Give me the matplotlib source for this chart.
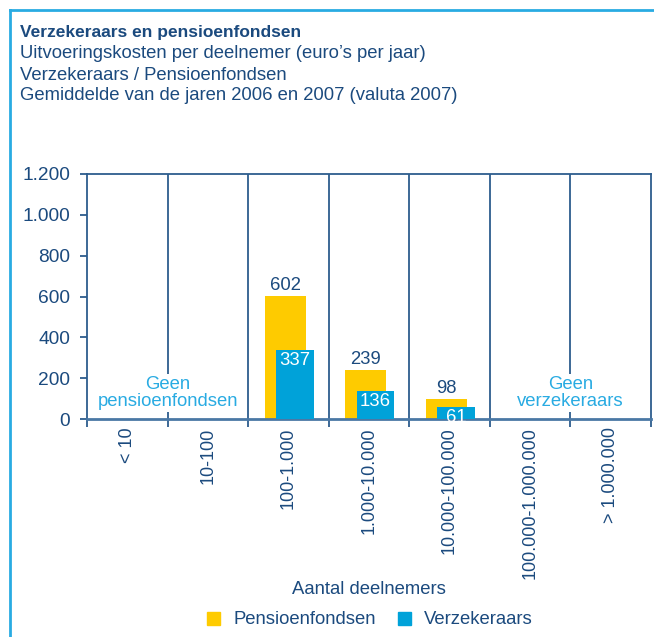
import numpy as np
import matplotlib.pyplot as plt
from matplotlib.lines import Line2D
from matplotlib.patches import Patch

plt.rcParams['font.family'] = ['Liberation Sans', 'DejaVu Sans']

# data
categories = ['< 10', '10-100', '100-1.000', '1.000-10.000',
              '10.000-100.000', '100.000-1.000.000', '> 1.000.000']
pensioenfondsen = [np.nan, np.nan, 602, 239, 98, np.nan, np.nan]
verzekeraars = [np.nan, np.nan, 337, 136, 61, np.nan, np.nan]
y_ticks = [0, 200, 400, 600, 800, 1000, 1200]
y_labels = ['0', '200', '400', '600', '800', '1.000', '1.200']
titles = ['Uitvoeringskosten per deelnemer (euro\u2019s per jaar)',
          'Verzekeraars / Pensioenfondsen',
          'Gemiddelde van de jaren 2006 en 2007 (valuta 2007)']

NAVY = '#1b4a7e'
YELLOW = '#fecb00'
BLUE = '#00a2d9'
LIGHTBLUE = '#29abe2'
FS = 13.3

fig = plt.figure(figsize=(6.54, 6.37), dpi=100)
ax = fig.add_axes([87/654, 1 - 419/637, (651 - 87)/654, (419 - 174)/637])

x = np.arange(len(categories))
ax.bar(x - 0.04, pensioenfondsen, width=0.51, color=YELLOW, zorder=2)
ax.bar(x + 0.08, verzekeraars, width=0.47, color=BLUE, zorder=3)

for i in range(len(categories)):
    if not np.isnan(pensioenfondsen[i]):
        ax.annotate(str(pensioenfondsen[i]), (x[i] - 0.04, pensioenfondsen[i]),
                    xytext=(0, 1.5), textcoords='offset points', ha='center',
                    va='bottom', color=NAVY, fontsize=FS)
    if not np.isnan(verzekeraars[i]):
        ax.annotate(str(verzekeraars[i]), (x[i] + 0.08, verzekeraars[i]),
                    xytext=(0, -1.5), textcoords='offset points', ha='center',
                    va='top', color='white', fontsize=FS, zorder=4)

# scheidingslijnen tussen de klassen
for b in np.arange(0.5, len(categories) - 1):
    ax.axvline(b, color='#2d5d8e', lw=1.3, zorder=1)

ax.text(0.5, 127, 'Geen\npensioenfondsen', ha='center', va='center',
        color=LIGHTBLUE, fontsize=FS, linespacing=1.05, zorder=5,
        bbox=dict(facecolor='white', edgecolor='none', pad=1))
ax.text(5.5, 127, 'Geen\nverzekeraars', ha='center', va='center',
        color=LIGHTBLUE, fontsize=FS, linespacing=1.05, zorder=5,
        bbox=dict(facecolor='white', edgecolor='none', pad=1))

ax.set_xlim(-0.5, len(categories) - 0.5)
ax.set_ylim(0, 1200)
ax.set_yticks(y_ticks)
ax.set_yticklabels(y_labels)
ax.set_xticks(x)
ax.set_xticklabels(categories, rotation=90, va='top')
ax.set_xticks(np.arange(-0.5, len(categories)), minor=True)
ax.tick_params(axis='x', which='major', length=0, pad=6, labelsize=13,
               labelcolor=NAVY)
ax.tick_params(axis='x', which='minor', length=6, width=1.3, color='#2d5d8e',
               direction='out')
ax.tick_params(axis='y', length=5, width=1.3, color='#2d5d8e', pad=7,
               labelsize=FS + 0.5, labelcolor=NAVY)

for side in ['left', 'right', 'top']:
    ax.spines[side].set_color('#2d5d8e')
    ax.spines[side].set_linewidth(1.3)
ax.spines['bottom'].set_color('#4a78a5')
ax.spines['bottom'].set_linewidth(2)

ax.set_xlabel('Aantal deelnemers', color=NAVY, fontsize=FS, va='center')
ax.xaxis.set_label_coords(0.5, -171/245)

# titel
fig.text(20/654, 1 - 33/637, 'Verzekeraars en pensioenfondsen', fontsize=12.5,
         fontweight='bold', color=NAVY, va='center')
for k, t in enumerate(titles):
    fig.text(20/654, 1 - (54 + 21*k)/637, t, fontsize=FS, color=NAVY,
             va='center')

# kader
fig.add_artist(Line2D([10/654, 10/654], [0, 1 - 10/637], color=LIGHTBLUE,
                      lw=2, transform=fig.transFigure))
fig.add_artist(Line2D([10/654, 1], [1 - 10/637, 1 - 10/637], color=LIGHTBLUE,
                      lw=2, transform=fig.transFigure))

handles = [Patch(color=YELLOW, label='Pensioenfondsen'),
           Patch(color=BLUE, label='Verzekeraars')]
fig.legend(handles=handles, loc='center', bbox_to_anchor=(370/654, 1 - 620/637),
           ncol=2, frameon=False, fontsize=FS, handlelength=0.7,
           handleheight=0.7, handletextpad=0.7, columnspacing=1.2,
           labelcolor=NAVY)

fig.savefig('out.png', dpi=100)
